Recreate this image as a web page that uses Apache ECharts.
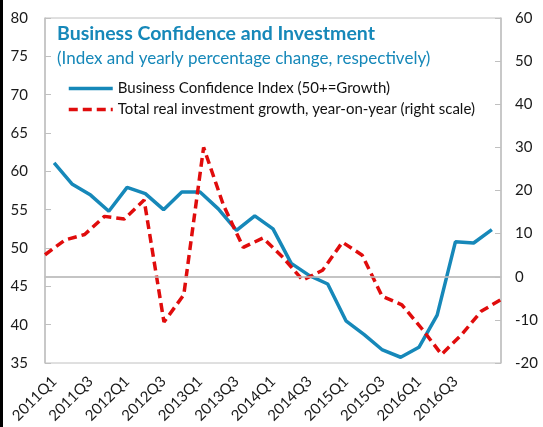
<!DOCTYPE html>
<html>
<head>
<meta charset="utf-8">
<script src="https://cdn.jsdelivr.net/npm/echarts@6/dist/echarts.min.js"></script>
<style>
html, body { margin: 0; padding: 0; background: #fff; }
#chart { width: 543px; height: 427px; }
</style>
</head>
<body>
<div id="chart"></div>
<script>
// 季度类目（2017Q1 不显示标签）
var quarters = ['2011Q1','2011Q2','2011Q3','2011Q4','2012Q1','2012Q2','2012Q3','2012Q4',
    '2013Q1','2013Q2','2013Q3','2013Q4','2014Q1','2014Q2','2014Q3','2014Q4',
    '2015Q1','2015Q2','2015Q3','2015Q4','2016Q1','2016Q2','2016Q3','2016Q4','2017Q1'];
// 投资增速所在的次坐标轴
var invQuarters = quarters.slice(0, 24);

var confidence = [61.1, 58.3, 56.9, 54.8, 57.9, 57.1, 55.0, 57.3, 57.3, 55.1, 52.3, 54.2, 52.5,
    48.0, 46.4, 45.3, 40.5, 38.7, 36.7, 35.75, 37.05, 41.25, 50.8, 50.65, 52.4];
var investment = [5.1, 8.5, 9.8, 14.0, 13.4, 17.8, -10.5, -4.2, 30.0, 16.6, 6.8, 9.0,
    4.5, -0.8, 1.5, 8.0, 5.0, -4.5, -6.5, -12.0, -18.0, -13.5, -8.0, -5.3];

var leftTicks = [35, 80, 5];
var rightTicks = [-20, 60, 10];

var blue = '#1688b9';
var red = '#e00c0c';
var font = 'Lato';

var myChart = echarts.init(document.getElementById('chart'));
var option = {
    backgroundColor: '#fff',
    animation: false,
    textStyle: { fontFamily: font },
    title: {
        text: 'Business Confidence and Investment',
        subtext: '(Index and yearly percentage change, respectively)',
        left: 52,
        top: 19,
        itemGap: 6,
        textStyle: { fontFamily: font, fontSize: 19.5, fontWeight: 'bold', color: blue },
        subtextStyle: { fontFamily: font, fontSize: 17, color: blue }
    },
    legend: {
        orient: 'vertical',
        left: 62,
        top: 76,
        itemWidth: 44,
        itemHeight: 12,
        itemGap: 6,
        itemStyle: { opacity: 0 },
        lineStyle: { width: 3.5 },
        textStyle: { fontFamily: font, fontSize: 15, color: '#111' },
        data: ['Business Confidence Index (50+=Growth)',
               'Total real investment growth, year-on-year (right scale)']
    },
    grid: {
        left: 45, right: 42, top: 18, bottom: 64,
        show: true, borderColor: '#c0c0c0', borderWidth: 1
    },
    xAxis: [{
        type: 'category',
        data: quarters,
        boundaryGap: true,
        axisLine: { lineStyle: { color: '#c0c0c0', width: 1.5 } },
        axisTick: {
            inside: true, length: 5,
            interval: function (i) { return i % 2 === 0; },
            lineStyle: { color: '#c0c0c0', width: 1.5 }
        },
        axisLabel: {
            rotate: 45, margin: 16, fontSize: 15, color: '#1a1a1a', fontFamily: font,
            interval: function (i) { return i % 2 === 0 && i < 24; }
        },
        splitLine: { show: false }
    }, {
        type: 'category',
        data: invQuarters,
        boundaryGap: false,
        show: false
    }],
    yAxis: [{
        type: 'value',
        min: leftTicks[0], max: leftTicks[1], interval: leftTicks[2],
        axisLine: { show: true, lineStyle: { color: '#c0c0c0', width: 1.5 } },
        axisTick: { show: true, inside: true, length: 6, lineStyle: { color: '#c0c0c0' } },
        axisLabel: { fontSize: 15, color: '#1a1a1a', margin: 17, fontFamily: font },
        splitLine: { show: false }
    }, {
        type: 'value',
        position: 'right',
        min: rightTicks[0], max: rightTicks[1], interval: rightTicks[2],
        axisLine: { show: true, lineStyle: { color: '#c0c0c0', width: 1.5 } },
        axisTick: { show: true, inside: true, length: 6, lineStyle: { color: '#c0c0c0' } },
        axisLabel: { fontSize: 15, color: '#1a1a1a', margin: 14, fontFamily: font },
        splitLine: { show: false }
    }],
    graphic: [{
        type: 'rect', left: 0, top: 0,
        shape: { width: 3, height: 427 },
        style: { fill: '#000' }
    }],
    series: [{
        name: 'Business Confidence Index (50+=Growth)',
        type: 'line',
        xAxisIndex: 0, yAxisIndex: 0,
        data: confidence,
        symbol: 'none',
        z: 3,
        lineStyle: { color: blue, width: 3.5 },
        itemStyle: { color: blue }
    }, {
        name: 'Total real investment growth, year-on-year (right scale)',
        type: 'line',
        xAxisIndex: 1, yAxisIndex: 1,
        data: investment,
        symbol: 'none',
        z: 4,
        lineStyle: { color: red, width: 3.5, type: [9, 5] },
        itemStyle: { color: red },
        markLine: {
            silent: true, symbol: 'none', label: { show: false },
            lineStyle: { color: '#c0c0c0', width: 1.5, type: 'solid' },
            data: [{ yAxis: 0 }]
        }
    }]
};
myChart.setOption(option);
</script>
</body>
</html>
